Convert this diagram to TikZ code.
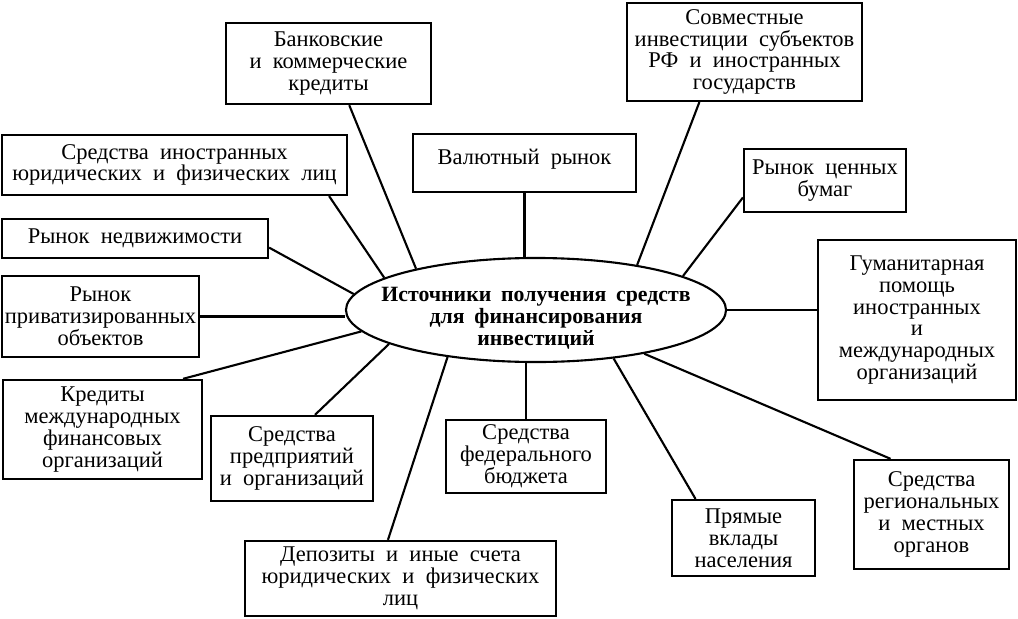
\documentclass[tikz,border=0pt]{standalone}
\usepackage{fontspec}
\setmainfont{Liberation Serif}
\usetikzlibrary{shapes.geometric, positioning, calc}

\newcommand\srcfont{\fontsize{16}{15.5}\selectfont\spaceskip=0.5em\relax}
\newcommand\hubfont{\bfseries\fontsize{15.5}{15.5}\selectfont\spaceskip=0.45em\relax}

\tikzset{
  srcbox/.style={draw, rectangle, line width=1.5pt, align=center, inner sep=2pt, font=\srcfont},
  link/.style={line width=1.5pt}
}

\begin{document}
\begin{tikzpicture}[x=0.025cm, y=-0.025cm]
  \useasboundingbox (0,0) rectangle (1018,618);

  % central node
  \node[draw, ellipse, line width=1.5pt, minimum width=9.5cm, minimum height=2.6cm, inner sep=0pt] (hub) at (536,310) {};
  \node[align=center, font=\hubfont] (hubtext) at ([yshift=-0.2cm]hub.center)
    {Источники получения средств\\для финансирования\\инвестиций};

  % sources
  \node[srcbox, minimum width=5.13cm, minimum height=2.03cm] (bank) at (328.5,63.5) {Банковские\\и коммерческие\\кредиты};
  \node[srcbox, minimum width=8.63cm, minimum height=1.5cm] (foreign) at (174.5,165) {Средства иностранных\\юридических и физических лиц};
  \node[srcbox, minimum width=6.65cm, minimum height=0.98cm] (realty) at (135,238.5) {Рынок недвижимости};
  \node[srcbox, minimum width=4.88cm, minimum height=2.03cm] (privat) at (100.5,316.5) {Рынок\\приватизированных\\объектов};
  \node[srcbox, minimum width=4.98cm, minimum height=2.48cm] (intl) at (102.5,429.5) {Кредиты\\международных\\финансовых\\организаций};
  \node[srcbox, minimum width=4.05cm, minimum height=2.13cm] (firms) at (292,458.5) {Средства\\предприятий\\и организаций};
  \node[srcbox, minimum width=7.78cm, minimum height=1.88cm] (deposit) at (400.5,578.5) {Депозиты и иные счета\\юридических и физических\\лиц};
  \node[srcbox, minimum width=4.0cm, minimum height=1.83cm] (federal) at (526,456.5) {Средства\\федерального\\бюджета};
  \node[srcbox, minimum width=3.58cm, minimum height=1.9cm] (direct) at (743.5,538) {Прямые\\вклады\\населения};
  \node[srcbox, minimum width=3.88cm, minimum height=2.73cm] (region) at (931.5,514.5) {Средства\\региональных\\и местных\\органов};
  \node[srcbox, minimum width=4.95cm, minimum height=4.0cm] (human) at (917,320) {Гуманитарная\\помощь\\иностранных\\и\\международных\\организаций};
  \node[srcbox, minimum width=4.05cm, minimum height=1.58cm] (secur) at (825,180.5) {Рынок ценных\\бумаг};
  \node[srcbox, minimum width=5.88cm, minimum height=2.45cm] (joint) at (744.5,52) {Совместные\\инвестиции субъектов\\РФ и иностранных\\государств};
  \node[srcbox, minimum width=5.58cm, minimum height=1.45cm] (currency) at (524.5,163) {Валютный рынок\\[-6pt]};

  % connectors
  \draw[link] ($(bank.south west)!0.6!(bank.south east)$) -- (hub.161.4);
  \draw[link] ($(foreign.south west)!0.945!(foreign.south east)$) -- (hub.168.8);
  \draw[link] ($(realty.north east)!0.72!(realty.south east)$) -- (hub.175.3);
  \draw[link] (privat.east) -- (privat.east -| hub.west);
  \draw[link] ($(intl.north west)!0.9!(intl.north east)$) -- (hub.187.2);
  \draw[link] ($(firms.north west)!0.64!(firms.north east)$) -- (hub.193.6);
  \draw[link] ($(deposit.north west)!0.46!(deposit.north east)$) -- (hub.208.5);
  \draw[link] (federal.north) -- (federal.north |- hub.south);
  \draw[link] ($(direct.north west)!0.17!(direct.north east)$) -- (hub.328);
  \draw[link] ($(region.north west)!0.24!(region.north east)$) -- (hub.338.5);
  \draw[link] (hub.east) -- (hub.east -| human.west);
  \draw[link] ($(secur.north west)!0.76!(secur.south west)$) -- (hub.13.4);
  \draw[link] ($(joint.south west)!0.31!(joint.south east)$) -- (hub.24.2);
  \draw[link] (currency.south) -- (currency.south |- hub.north);
\end{tikzpicture}
\end{document}
